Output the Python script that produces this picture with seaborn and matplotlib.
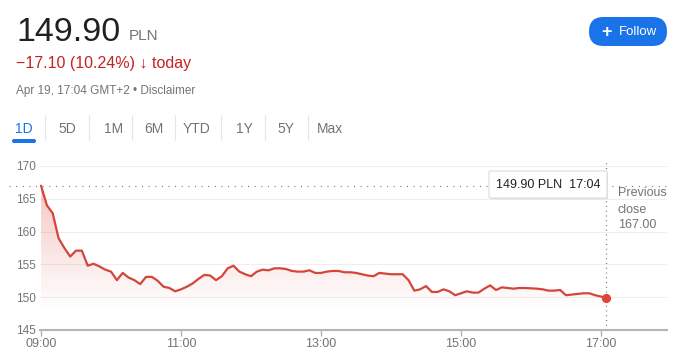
import numpy as np
import pandas as pd
import matplotlib
matplotlib.use("Agg")
import matplotlib.pyplot as plt
import matplotlib.patches as mpatches
import matplotlib.transforms as mtransforms
import seaborn as sns

# --- data (5-minute steps from 09:00, last point 17:04) ---
prices = [
    167.0, 164.0, 162.8, 159.0, 157.5, 156.2, 157.1, 157.1, 154.8, 155.1,
    154.7, 154.2, 153.9, 152.6, 153.7, 153.0, 152.6, 152.0, 153.1, 153.1,
    152.5, 151.6, 151.4, 150.9, 151.2, 151.6, 152.1, 152.8, 153.4, 153.3,
    152.6, 153.2, 154.4, 154.8, 153.9, 153.5, 153.2, 153.9, 154.2, 154.1,
    154.4, 154.4, 154.3, 154.0, 153.9, 153.9, 154.1, 153.7, 153.7, 153.9,
    154.0, 154.0, 153.8, 153.8, 153.7, 153.5, 153.3, 153.2, 153.7, 153.6,
    153.5, 153.5, 153.5, 152.6, 151.0, 151.2, 151.7, 150.8, 150.8, 151.2,
    150.9, 150.3, 150.6, 150.9, 150.7, 150.7, 151.3, 151.8, 151.1, 151.5,
    151.4, 151.3, 151.4, 151.4, 151.35, 151.3, 151.2, 151.0, 151.0, 151.1,
    150.3, 150.4, 150.5, 150.6, 150.6, 150.3, 150.1, 149.9,
]
times = list(pd.date_range("09:00", "17:00", freq="5min").strftime("%H:%M")) + ["17:04"]
x_ticklabels = ["09:00", "11:00", "13:00", "15:00", "17:00"]
y_ticks = [145, 150, 155, 160, 165, 170]
prev_close = 167.00
last_price = 149.90
tabs = ["1D", "5D", "1M", "6M", "YTD", "1Y", "5Y", "Max"]


def to_min(t):
    h, m = t.split(":")
    return (int(h) - 9) * 60 + int(m)


df = pd.DataFrame({"time": times, "price": prices})
df["minute"] = df["time"].map(to_min)

sns.set_theme(style="white")
plt.rcParams["font.family"] = ["Liberation Sans", "DejaVu Sans"]

W, H = 687, 364
fig = plt.figure(figsize=(W / 100, H / 100), dpi=100)
fig.patch.set_facecolor("white")
pix = mtransforms.Affine2D().scale(1 / W, 1 / H) + fig.transFigure

GREY = "#70757a"
DARK = "#202124"
RED_TXT = "#c5221f"
BLUE = "#1a73e8"
LINE = "#d4453a"


def ftext(x, y, s, **kw):
    fig.text(x, H - y, s, transform=pix, **kw)


# --- header ---
ftext(16, 41, "149.90", fontsize=24.5, color=DARK, va="baseline")
ftext(129, 40, "PLN", fontsize=11, color=GREY, va="baseline")
ftext(16, 68, "\u221217.10 (10.24%) \u2193 today", fontsize=11.5, color=RED_TXT, va="baseline")
ftext(16, 94, "Apr 19, 17:04 GMT+2 \u2022 Disclaimer", fontsize=8.5, color=GREY, va="baseline")

# follow button
fig.patches.append(mpatches.FancyBboxPatch((589, H - 46), 78, 29,
                                           boxstyle="round,pad=0,rounding_size=14.5",
                                           facecolor=BLUE, edgecolor="none", transform=pix))
ftext(607, 32, "+", fontsize=13, color="white", ha="center", va="center", fontweight="bold")
ftext(619, 32, "Follow", fontsize=9.5, color="white", ha="left", va="center")

# range tabs
tab_x = [24, 67, 114, 154, 197, 244, 286, 330]
sep_x = [45, 89, 132, 175, 221, 265, 308]
for name, tx in zip(tabs, tab_x):
    ftext(tx, 133, name, fontsize=10, color=BLUE if name == "1D" else GREY,
          ha="center", va="baseline")
for sx in sep_x:
    fig.add_artist(plt.Line2D([sx, sx], [H - 115, H - 140], color="#e6e6e6", lw=0.8, transform=pix))
fig.patches.append(mpatches.FancyBboxPatch((12, H - 143), 24, 4,
                                           boxstyle="round,pad=0,rounding_size=2",
                                           facecolor=BLUE, edgecolor="none", transform=pix))

# --- chart ---
ax = fig.add_axes([40 / W, 34 / H, 627 / W, 164 / H])
x_lo, x_hi = -0.9, 536.6

sns.lineplot(data=df, x="minute", y="price", ax=ax, color=LINE, linewidth=1.6, zorder=3)

# gradient fill under the line
rgba = np.zeros((256, 1, 4))
rgba[..., 0], rgba[..., 1], rgba[..., 2] = 0.85, 0.27, 0.23
rgba[:, 0, 3] = np.linspace(0.3, 0.0, 256)
im = ax.imshow(rgba, extent=[x_lo, x_hi, 148, prev_close], aspect="auto",
               origin="upper", zorder=1, interpolation="bilinear")
poly = ax.fill_between(df["minute"], df["price"], 145, color="none", lw=0)
im.set_clip_path(poly.get_paths()[0], transform=ax.transData)

last = df.iloc[-1]
ax.plot(last["minute"], last_price, "o", color="#e0433a", markersize=5.6, zorder=4)

ax.axhline(prev_close, xmin=-0.05, xmax=1, color=GREY, lw=0.9,
           linestyle=(0, (0.8, 4.5)), clip_on=False, zorder=2)
ax.axvline(last["minute"], ymin=0, ymax=1.03, color=GREY, lw=0.9,
           linestyle=(0, (0.8, 3)), clip_on=False, zorder=2)

ax.set_xlim(x_lo, x_hi)
ax.set_ylim(145, 170)
ax.set_yticks(y_ticks)
ax.set_xticks([to_min(t) for t in x_ticklabels])
ax.set_xticklabels(x_ticklabels)
ax.set_xlabel("")
ax.set_ylabel("")
ax.grid(axis="y", color="#eeeeee", lw=0.8)
ax.grid(axis="x", visible=False)
for s in ["top", "left", "right"]:
    ax.spines[s].set_visible(False)
ax.spines["bottom"].set_color("#b5b5b5")
ax.spines["bottom"].set_linewidth(1.5)
ax.tick_params(axis="y", length=0, pad=3, labelsize=8.5, labelcolor=GREY)
ax.tick_params(axis="x", length=4.5, width=1, color="#b5b5b5", pad=1.5,
               labelsize=9, labelcolor=GREY, bottom=True)

# previous close label
for yy, s in zip([193, 210, 225], ["Previous", "close", "167.00"]):
    ftext(618, yy, s, fontsize=9, color=GREY, ha="left", va="center")

# tooltip
fig.patches.append(mpatches.FancyBboxPatch((490, H - 199.5), 118, 27,
                                           boxstyle="round,pad=0,rounding_size=1.5",
                                           facecolor="#e4e4e4", edgecolor="none",
                                           transform=pix, zorder=1))
fig.patches.append(mpatches.FancyBboxPatch((489, H - 198), 118, 27,
                                           boxstyle="round,pad=0,rounding_size=1.5",
                                           facecolor="white", edgecolor="#dcdcdc", lw=0.8,
                                           transform=pix, zorder=1.1))
ftext(548, 185, "149.90 PLN  17:04", fontsize=9, color=DARK, ha="center", va="center")

fig.savefig("out.png", dpi=100, facecolor="white")
